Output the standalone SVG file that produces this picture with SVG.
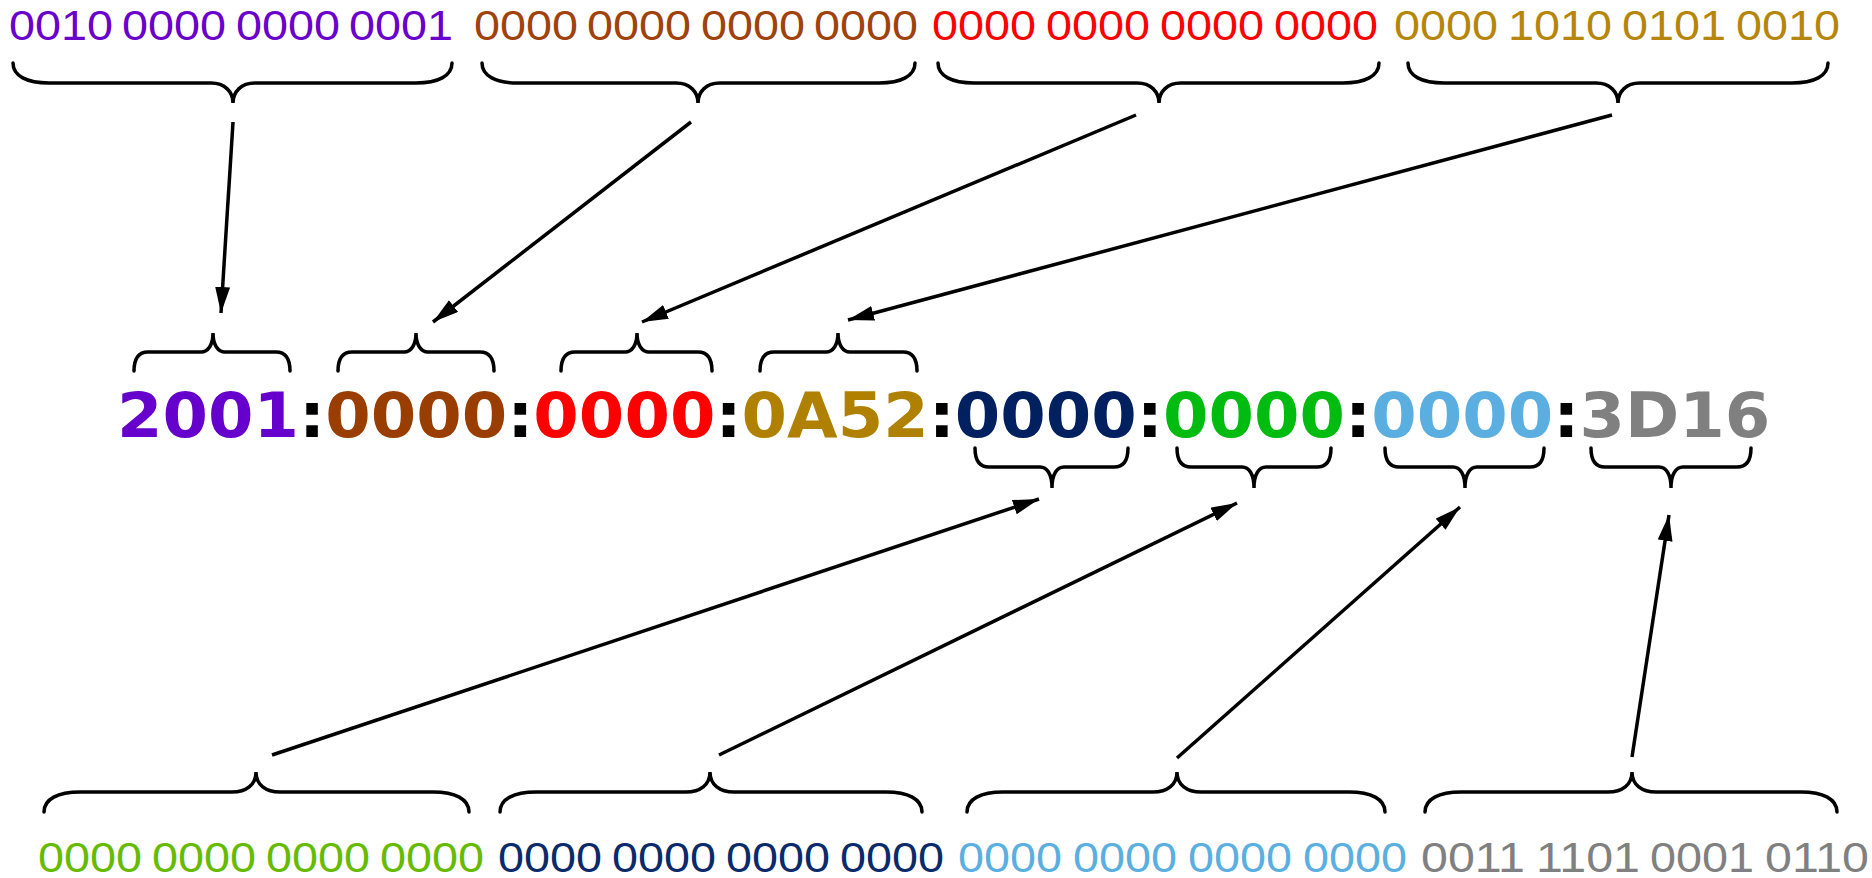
<svg xmlns="http://www.w3.org/2000/svg" width="1872" height="878" viewBox="0 0 1872 878">
<defs>
<style>
.bin{font-family:"Liberation Sans","Open Sans",sans-serif;font-size:42px}
.hex{font-family:"DejaVu Sans","Liberation Sans",sans-serif;font-weight:bold;font-size:62px}
.br{fill:none;stroke:#000;stroke-width:3.5;stroke-linecap:round}
.ar{fill:none;stroke:#000;stroke-width:3.5}
</style>
<marker id="ah" markerUnits="userSpaceOnUse" markerWidth="28" markerHeight="16" refX="26" refY="7.5" orient="auto">
<path d="M0,0 L26,7.5 L0,15 z" fill="#000"/>
</marker>
</defs>
<rect width="1872" height="878" fill="#fff"/>

<g id="top-binary-1" class="bin" fill="#6A00CC">
<text x="9" y="40" textLength="104" lengthAdjust="spacingAndGlyphs">0010</text>
<text x="122" y="40" textLength="104" lengthAdjust="spacingAndGlyphs">0000</text>
<text x="236" y="40" textLength="104" lengthAdjust="spacingAndGlyphs">0000</text>
<text x="349" y="40" textLength="104" lengthAdjust="spacingAndGlyphs">0001</text>
</g>
<g id="top-binary-2" class="bin" fill="#A0420C">
<text x="474" y="40" textLength="104" lengthAdjust="spacingAndGlyphs">0000</text>
<text x="587" y="40" textLength="104" lengthAdjust="spacingAndGlyphs">0000</text>
<text x="701" y="40" textLength="104" lengthAdjust="spacingAndGlyphs">0000</text>
<text x="814" y="40" textLength="104" lengthAdjust="spacingAndGlyphs">0000</text>
</g>
<g id="top-binary-3" class="bin" fill="#FF0000">
<text x="932" y="40" textLength="104" lengthAdjust="spacingAndGlyphs">0000</text>
<text x="1046" y="40" textLength="104" lengthAdjust="spacingAndGlyphs">0000</text>
<text x="1160" y="40" textLength="104" lengthAdjust="spacingAndGlyphs">0000</text>
<text x="1274" y="40" textLength="104" lengthAdjust="spacingAndGlyphs">0000</text>
</g>
<g id="top-binary-4" class="bin" fill="#B5860A">
<text x="1394" y="40" textLength="104" lengthAdjust="spacingAndGlyphs">0000</text>
<text x="1508" y="40" textLength="104" lengthAdjust="spacingAndGlyphs">1010</text>
<text x="1622" y="40" textLength="104" lengthAdjust="spacingAndGlyphs">0101</text>
<text x="1736" y="40" textLength="104" lengthAdjust="spacingAndGlyphs">0010</text>
</g>

<g id="top-braces">
<path class="br" d="M13,63 C13,76 27,83 49,83 L211,83 C225,83 233,92 233,103 C233,92 241,83 255,83 L416,83 C438,83 452,76 452,63"/>
<path class="br" d="M482,63 C482,76 496,83 518,83 L676,83 C690,83 698,92 698,103 C698,92 706,83 720,83 L879,83 C901,83 915,76 915,63"/>
<path class="br" d="M938,63 C938,76 952,83 974,83 L1137,83 C1151,83 1159,92 1159,103 C1159,92 1167,83 1181,83 L1343,83 C1365,83 1379,76 1379,63"/>
<path class="br" d="M1408,63 C1408,76 1422,83 1444,83 L1596,83 C1610,83 1618,92 1618,103 C1618,92 1626,83 1640,83 L1792,83 C1814,83 1828,76 1828,63"/>
</g>

<g id="hex-address">
<text class="hex" transform="translate(117,437) scale(1.055,1)" x="0" y="0"><tspan fill="#6600CC">2001</tspan><tspan fill="#000">:</tspan><tspan fill="#993D00">0000</tspan><tspan fill="#000">:</tspan><tspan fill="#FF0000">0000</tspan><tspan fill="#000">:</tspan><tspan fill="#B08000">0A52</tspan><tspan fill="#000">:</tspan><tspan fill="#002060">0000</tspan><tspan fill="#000">:</tspan><tspan fill="#00BB10">0000</tspan><tspan fill="#000">:</tspan><tspan fill="#5AAFE0">0000</tspan><tspan fill="#000">:</tspan><tspan fill="#808080">3D16</tspan></text>
</g>

<g id="hex-braces-upper">
<path class="br" d="M134,371 C134,359 138,352 148,352 L201,352 C208,352 213,345 213,333 C213,345 218,352 225,352 L276,352 C286,352 290,359 290,371"/>
<path class="br" d="M338,371 C338,359 342,352 352,352 L404,352 C411,352 416,345 416,333 C416,345 421,352 428,352 L480,352 C490,352 494,359 494,371"/>
<path class="br" d="M561,371 C561,359 565,352 575,352 L625,352 C632,352 637,345 637,333 C637,345 642,352 649,352 L698,352 C708,352 712,359 712,371"/>
<path class="br" d="M760,371 C760,359 764,352 774,352 L826,352 C833,352 838,345 838,333 C838,345 843,352 850,352 L903,352 C913,352 917,359 917,371"/>
</g>

<g id="hex-braces-lower">
<path class="br" d="M975,448 C975,460 979,467 989,467 L1040,467 C1047,467 1052,474 1052,488 C1052,474 1057,467 1064,467 L1114,467 C1124,467 1128,460 1128,448"/>
<path class="br" d="M1177,448 C1177,460 1181,467 1191,467 L1242,467 C1249,467 1254,474 1254,488 C1254,474 1259,467 1266,467 L1317,467 C1327,467 1331,460 1331,448"/>
<path class="br" d="M1385,448 C1385,460 1389,467 1399,467 L1453,467 C1460,467 1465,474 1465,488 C1465,474 1470,467 1477,467 L1530,467 C1540,467 1544,460 1544,448"/>
<path class="br" d="M1591,448 C1591,460 1595,467 1605,467 L1659,467 C1666,467 1671,474 1671,488 C1671,474 1676,467 1683,467 L1737,467 C1747,467 1751,460 1751,448"/>
</g>

<g id="bottom-braces">
<path class="br" d="M44,812 C44,799 58,792 80,792 L232,792 C246,792 256,785 256,772 C256,785 266,792 280,792 L433,792 C455,792 469,799 469,812"/>
<path class="br" d="M500,812 C500,799 514,792 536,792 L686,792 C700,792 710,785 710,772 C710,785 720,792 734,792 L886,792 C908,792 922,799 922,812"/>
<path class="br" d="M967,812 C967,799 981,792 1003,792 L1153,792 C1167,792 1177,785 1177,772 C1177,785 1187,792 1201,792 L1349,792 C1371,792 1385,799 1385,812"/>
<path class="br" d="M1425,812 C1425,799 1439,792 1461,792 L1608,792 C1622,792 1632,785 1632,772 C1632,785 1642,792 1656,792 L1801,792 C1823,792 1837,799 1837,812"/>
</g>

<g id="bottom-binary-1" class="bin" fill="#66BB00">
<text x="38" y="872" textLength="104" lengthAdjust="spacingAndGlyphs">0000</text>
<text x="152" y="872" textLength="104" lengthAdjust="spacingAndGlyphs">0000</text>
<text x="266" y="872" textLength="104" lengthAdjust="spacingAndGlyphs">0000</text>
<text x="380" y="872" textLength="104" lengthAdjust="spacingAndGlyphs">0000</text>
</g>
<g id="bottom-binary-2" class="bin" fill="#0A2A6A">
<text x="498" y="872" textLength="104" lengthAdjust="spacingAndGlyphs">0000</text>
<text x="612" y="872" textLength="104" lengthAdjust="spacingAndGlyphs">0000</text>
<text x="726" y="872" textLength="104" lengthAdjust="spacingAndGlyphs">0000</text>
<text x="840" y="872" textLength="104" lengthAdjust="spacingAndGlyphs">0000</text>
</g>
<g id="bottom-binary-3" class="bin" fill="#5AAFE0">
<text x="958" y="872" textLength="104" lengthAdjust="spacingAndGlyphs">0000</text>
<text x="1073" y="872" textLength="104" lengthAdjust="spacingAndGlyphs">0000</text>
<text x="1188" y="872" textLength="104" lengthAdjust="spacingAndGlyphs">0000</text>
<text x="1303" y="872" textLength="104" lengthAdjust="spacingAndGlyphs">0000</text>
</g>
<g id="bottom-binary-4" class="bin" fill="#808080">
<text x="1421" y="872" textLength="104" lengthAdjust="spacingAndGlyphs">0011</text>
<text x="1536" y="872" textLength="104" lengthAdjust="spacingAndGlyphs">1101</text>
<text x="1650" y="872" textLength="104" lengthAdjust="spacingAndGlyphs">0001</text>
<text x="1765" y="872" textLength="104" lengthAdjust="spacingAndGlyphs">0110</text>
</g>

<g id="connectors">
<line class="ar" x1="233" y1="122" x2="221" y2="313" marker-end="url(#ah)"/>
<line class="ar" x1="691" y1="122" x2="433" y2="322" marker-end="url(#ah)"/>
<line class="ar" x1="1136" y1="115" x2="642" y2="322" marker-end="url(#ah)"/>
<line class="ar" x1="1612" y1="115" x2="848" y2="320" marker-end="url(#ah)"/>
<line class="ar" x1="272" y1="755" x2="1039" y2="499" marker-end="url(#ah)"/>
<line class="ar" x1="719" y1="755" x2="1237" y2="503" marker-end="url(#ah)"/>
<line class="ar" x1="1177" y1="758" x2="1460" y2="507" marker-end="url(#ah)"/>
<line class="ar" x1="1632" y1="757" x2="1669" y2="515" marker-end="url(#ah)"/>
</g>
</svg>
